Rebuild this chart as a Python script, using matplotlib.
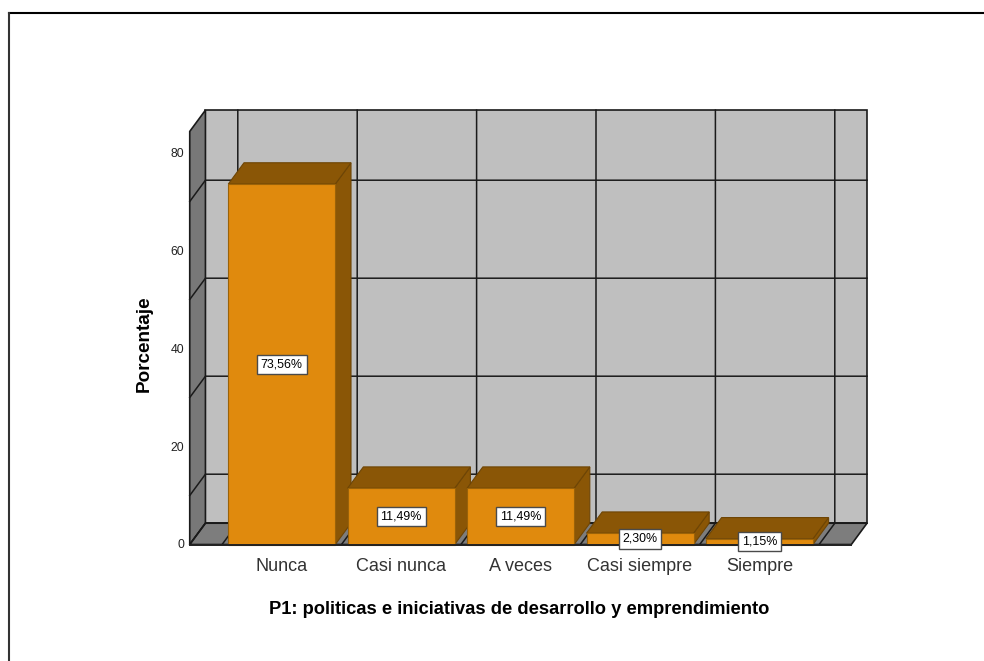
import matplotlib
matplotlib.use('Agg')
import matplotlib.pyplot as plt
from matplotlib.patches import Polygon
from matplotlib.lines import Line2D

plt.rcParams['font.family'] = ['Liberation Sans', 'DejaVu Sans']

categories = ['Nunca', 'Casi nunca', 'A veces', 'Casi siempre', 'Siempre']
values = [73.56, 11.49, 11.49, 2.30, 1.15]
value_labels = ['73,56%', '11,49%', '11,49%', '2,30%', '1,15%']
y_ticks = [0, 20, 40, 60, 80]
grid_y = [0, 10, 30, 50, 70]
y_top = 84.3

# scale of the picture
px_x = 119.4
px_y = 4.9
x0 = 281.8
y0 = 544.5
W, H = 984, 661

# 3d offset in data units
dx = 15.7 / px_x
dy = 21.3 / px_y
half = 53.5 / px_x
x_left = -0.771
x_right = 4.77

ORANGE = '#e08a0d'
BROWN = '#8a5606'
WALL = '#bfbfbf'
SIDE = '#787878'
FLOOR = '#7d7d7d'
LINE = '#1a1a1a'

fig = plt.figure(figsize=(W / 100, H / 100), dpi=100)
ax = fig.add_axes([0, 0, 1, 1])
ax.set_xlim((0 - x0) / px_x, (W - x0) / px_x)
ax.set_ylim((y0 - H) / px_y, y0 / px_y)
ax.axis('off')


def poly(points, face, edge=LINE, lw=1.2, z=1):
    ax.add_patch(Polygon(points, closed=True, facecolor=face, edgecolor=edge, linewidth=lw, zorder=z))


# back wall, left wall, floor
poly([(x_left + dx, dy), (x_right + dx, dy), (x_right + dx, y_top + dy - 0), (x_left + dx, y_top + dy)], WALL)
poly([(x_left, 0), (x_left + dx, dy), (x_left + dx, y_top + dy), (x_left, y_top)], SIDE)
poly([(x_left, 0), (x_right, 0), (x_right + dx, dy), (x_left + dx, dy)], FLOOR)

# grid lines
for g in grid_y:
    ax.plot([x_left, x_left + dx, x_right + dx], [g, g + dy, g + dy], color=LINE, lw=1.1, zorder=2)
for i in range(len(categories) + 1):
    xg = i - 0.5
    ax.plot([xg, xg + dx, xg + dx], [0, dy, y_top + dy], color=LINE, lw=1.1, zorder=2)

# bars
for i, v in enumerate(values):
    a, b = i - half, i + half
    poly([(b, 0), (b + dx, dy), (b + dx, v + dy), (b, v)], BROWN, edge='#6e4505', lw=0.8, z=3)
    poly([(a, v), (b, v), (b + dx, v + dy), (a + dx, v + dy)], BROWN, edge='#6e4505', lw=0.8, z=3)
    poly([(a, 0), (b, 0), (b, v), (a, v)], ORANGE, edge='#9a6208', lw=0.8, z=4)

ax.plot([x_left, x_right], [0, 0], color='#222222', lw=1.4, zorder=5)

# value labels
for i, v in enumerate(values):
    ax.text(i, v / 2, value_labels[i], ha='center', va='center', fontsize=8.9, color='black', zorder=6,
            bbox=dict(boxstyle='square,pad=0.3', facecolor='white', edgecolor='#4a4a4a', linewidth=1))

# tick labels
for t in y_ticks:
    ax.text(x_left - 5.5 / px_x, t - 0.2 if t == 0 else t - 0.3, str(t), ha='right', va='center', fontsize=8.8, color='#222222')
for i, c in enumerate(categories):
    ax.text(i, -4.4, c, ha='center', va='center', fontsize=13, color='#333333')

# axis titles
ax.text(x_left - 45.5 / px_x, 40.9, 'Porcentaje', rotation=90, ha='center', va='center',
        fontsize=13.6, fontweight='bold', color='black')
ax.text(1.985, -13.3, 'P1: politicas e iniciativas de desarrollo y emprendimiento', ha='center', va='center',
        fontsize=13.25, fontweight='bold', color='black')

# outer frame, only top and left
fig.add_artist(Line2D([8.5 / W, 1], [1 - 12.5 / H, 1 - 12.5 / H], color='black', lw=1.5))
fig.add_artist(Line2D([8.5 / W, 8.5 / W], [0, 1 - 12.5 / H], color='#333333', lw=1.5))

fig.savefig('out.png', dpi=100)
